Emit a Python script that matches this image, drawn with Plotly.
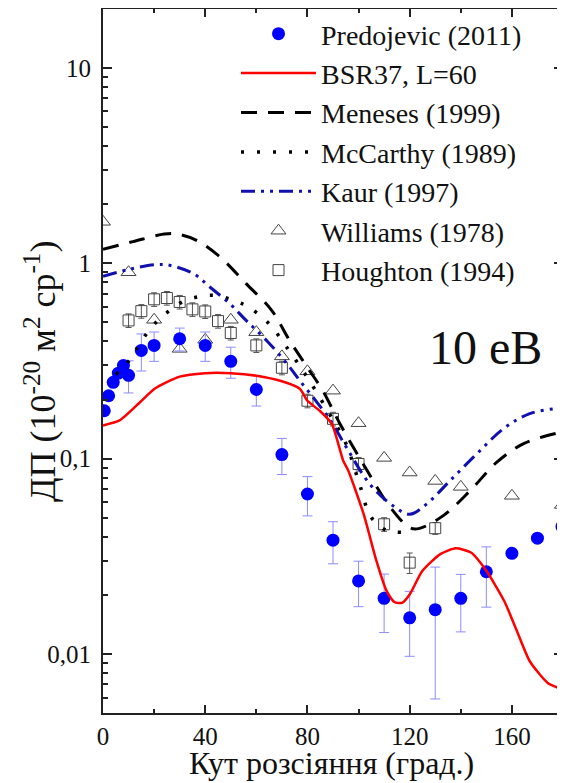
import numpy as np
import plotly.graph_objects as go

# ---------------- data ----------------
pred_x = [0.5, 2.2, 4, 6, 8, 10, 15, 20, 30, 40, 50, 60, 70, 80, 90, 100, 110, 120, 130, 140, 150, 160, 170, 179.6]
pred_y = [0.176, 0.21, 0.246, 0.274, 0.30, 0.267, 0.358, 0.38, 0.411, 0.38, 0.315, 0.226, 0.105, 0.066,
          0.0383, 0.0237, 0.0193, 0.01535, 0.0169, 0.0193, 0.0264, 0.0328, 0.0392, 0.045]
pred_err = [0, 0, 0, 0, 0, 0.05, 0.077, 0.065, 0.055, 0.065, 0.057, 0.04, 0.022, 0.015,
            0.0093, 0.0062, 0.0064, 0.0056, 0.011, 0.0063, 0.009, 0, 0, 0]

bsr_x = [0, 6.5, 14.4, 20.2, 30, 40, 50, 60, 70, 77, 80, 85, 89.5, 94, 96, 102, 107, 111, 114, 117, 120,
         125, 132, 138, 144, 150, 157, 162, 167, 174, 180]
bsr_y = [0.148, 0.157, 0.194, 0.228, 0.263, 0.274, 0.274, 0.266, 0.249, 0.228, 0.198, 0.175, 0.151, 0.0977,
         0.0868, 0.052, 0.030, 0.021, 0.0185, 0.0183, 0.0202, 0.0267, 0.0325, 0.0348, 0.0331, 0.0267,
         0.0187, 0.0131, 0.0092, 0.00713, 0.00659]

men_x = [0, 11.7, 24, 29, 36.6, 45.7, 56, 66, 73, 80, 86, 92.7, 103, 112, 120, 123.5, 133, 143.6, 154, 164.4, 177.5, 180]
men_y = [1.18, 1.29, 1.41, 1.41, 1.31, 1.08, 0.787, 0.574, 0.403, 0.293, 0.223, 0.151, 0.0885, 0.0574,
         0.0444, 0.0439, 0.051, 0.0685, 0.0957, 0.119, 0.135, 0.137]

mcc_x = [5, 10.5, 14.4, 19, 25, 31, 38, 44, 51, 57, 65, 72, 80, 88, 95, 100, 105, 111, 117]
mcc_y = [0.27, 0.321, 0.388, 0.471, 0.559, 0.634, 0.677, 0.685, 0.646, 0.597, 0.49, 0.37, 0.26, 0.175,
         0.12, 0.077, 0.05, 0.043, 0.042]

kaur_x = [0, 11.7, 21, 26, 35.4, 41.8, 49.6, 56, 64, 72, 77, 83, 89, 95.3, 104.4, 113.5, 120, 126.6,
          135.7, 146.2, 156.6, 167, 178.8, 180]
kaur_y = [0.858, 0.94, 0.985, 0.977, 0.885, 0.756, 0.621, 0.51, 0.403, 0.306, 0.251, 0.2, 0.157, 0.114,
          0.0742, 0.0574, 0.052, 0.0586, 0.077, 0.1057, 0.142, 0.17, 0.182, 0.183]

wil_x = [0, 10, 20, 30, 40, 50, 60, 70, 80, 90, 100, 110, 120, 130, 140, 160, 179.6]
wil_y = [1.63, 0.90, 0.514, 0.365, 0.406, 0.514, 0.444, 0.334, 0.28, 0.223, 0.152, 0.101, 0.085, 0.077,
         0.0718, 0.0646, 0.058]

hou_x = [10, 15, 20, 25, 30, 35, 40, 45, 50, 60, 70, 80, 90, 100, 110, 120, 130]
hou_y = [0.51, 0.569, 0.654, 0.664, 0.634, 0.581, 0.567, 0.506, 0.44, 0.38, 0.292, 0.198, 0.16, 0.094,
         0.0462, 0.0294, 0.0441]
hou_rel_err = [0.08] * 15 + [0.12, 0.07]

x_ticks = [0, 40, 80, 120, 160]
y_ticks = [0.01, 0.1, 1, 10]
y_ticktext = ["0,01", "0,1", "1", "10"]

names = ["Predojevic (2011)", "BSR37, L=60", "Meneses (1999)", "McCarthy (1989)",
         "Kaur (1997)", "Williams (1978)", "Houghton (1994)"]

FONT = "Liberation Serif, Times New Roman, serif"
INK = "#111111"

# page geometry (the page body has an 8px margin)
PL, PT, PW, PH = 103, 9, 460, 704


def px(X):
    return (X - PL) / PW


def py(Y):
    return 1 - (Y - PT) / PH


fig = go.Figure()

fig.add_trace(go.Scatter(
    x=wil_x, y=wil_y, mode="markers", name=names[5], legendrank=6,
    marker=dict(symbol="triangle-up-open", size=13, color="#444444", line=dict(width=1))))
fig.add_trace(go.Scatter(
    x=hou_x, y=hou_y, mode="markers", name=names[6], legendrank=7,
    error_y=dict(type="data", array=[v * e for v, e in zip(hou_y, hou_rel_err)],
                 color="#555555", thickness=1, width=3),
    marker=dict(symbol="square-open", size=11, color="#444444", line=dict(width=1))))
fig.add_trace(go.Scatter(
    x=pred_x, y=pred_y, mode="markers", name=names[0], legendrank=1,
    error_y=dict(type="data", array=pred_err, color="#8c8cff", thickness=1, width=5),
    marker=dict(symbol="circle", size=13, color="#0000ff")))
fig.add_trace(go.Scatter(
    x=mcc_x, y=mcc_y, mode="lines", name=names[3], legendrank=4, line_shape="spline",
    line=dict(color="#000000", width=3.5, dash="3px,13px")))
fig.add_trace(go.Scatter(
    x=men_x, y=men_y, mode="lines", name=names[2], legendrank=3, line_shape="spline",
    line=dict(color="#000000", width=3, dash="16px,11px")))
fig.add_trace(go.Scatter(
    x=kaur_x, y=kaur_y, mode="lines", name=names[4], legendrank=5, line_shape="spline",
    line=dict(color="#1010b0", width=3, dash="14px,6px,3px,6px,3px,6px")))
fig.add_trace(go.Scatter(
    x=bsr_x, y=bsr_y, mode="lines", name=names[1], legendrank=2, line_shape="spline",
    line=dict(color="#ff0000", width=2.5, smoothing=0.6)))

axis_common = dict(showline=True, linecolor="#222222", linewidth=2, mirror="ticks",
                   ticks="inside", tickcolor="#222222", tickwidth=1.5, showgrid=False,
                   zeroline=False, automargin=False,
                   tickfont=dict(family=FONT, size=25, color=INK))

fig.update_xaxes(range=[0, 180], tickmode="array", tickvals=x_ticks, ticklen=8,
                 minor=dict(tickmode="array", tickvals=[20, 60, 100, 140], ticks="inside",
                            ticklen=4, tickcolor="#222222", tickwidth=1.5),
                 **axis_common)

minor_y = [m * 10.0 ** d for d in range(-3, 2) for m in range(2, 10)]
minor_y = [v for v in minor_y if 0.005 <= v <= 20]
fig.update_yaxes(type="log", range=[np.log10(0.005), np.log10(20)], tickmode="array",
                 tickvals=y_ticks, ticktext=y_ticktext, ticklen=9, ticklabelstandoff=5,
                 minor=dict(tickmode="array", tickvals=minor_y, ticks="inside", ticklen=5,
                            tickcolor="#222222", tickwidth=1.5),
                 **axis_common)

# axis titles
fig.add_annotation(x=px(331), y=py(763), xref="paper", yref="paper",
                   text="Кут розсіяння (град.)", showarrow=False, xanchor="center", yanchor="middle",
                   font=dict(family=FONT, size=32, color=INK))
fig.add_annotation(x=px(40), y=py(372), xref="paper", yref="paper",
                   text="ДП (10<sup>-20</sup> м<sup>2</sup> ср<sup>-1</sup>)", textangle=-90,
                   showarrow=False, xanchor="center", yanchor="middle",
                   font=dict(family=FONT, size=36, color=INK))

fig.add_annotation(x=px(485), y=py(347), xref="paper", yref="paper",
                   text="10 еВ", showarrow=False, xanchor="center", yanchor="middle",
                   font=dict(family=FONT, size=48, color=INK))

fig.update_layout(
    width=557, height=775,
    margin=dict(l=95, r=2, t=1, b=70, autoexpand=False),
    paper_bgcolor="white", plot_bgcolor="white",
    font=dict(family=FONT, color=INK),
    showlegend=True,
    legend=dict(x=px(236), xanchor="left", y=1.0, yanchor="top",
                bgcolor="rgba(0,0,0,0)", itemwidth=75, tracegroupgap=0,
                font=dict(family=FONT, size=28, color=INK)),
)

fig.write_html("out.html")
